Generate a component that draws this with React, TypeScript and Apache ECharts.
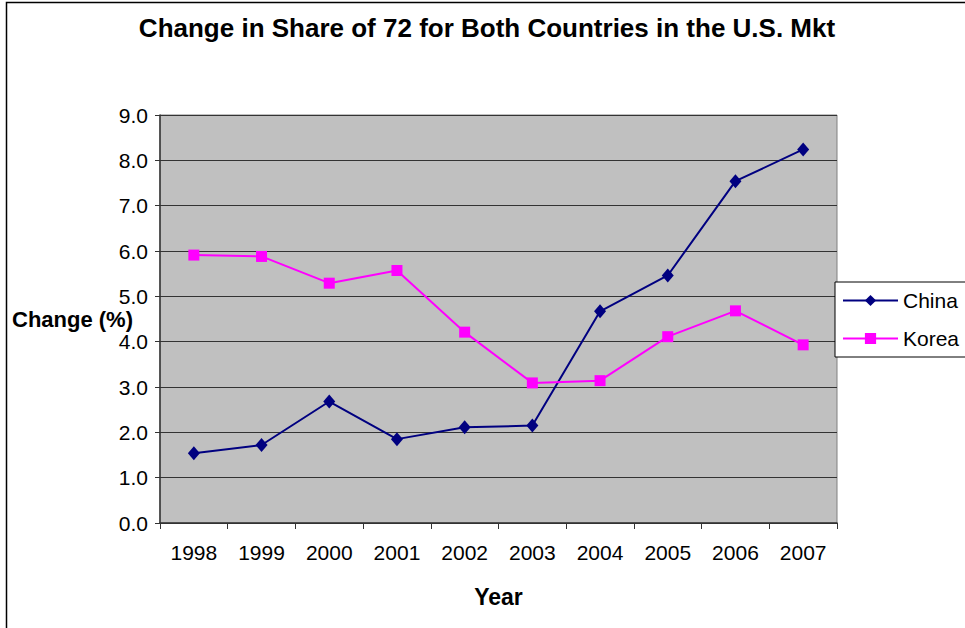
import React, { useEffect, useRef } from "react";
import * as echarts from "echarts";

const years = ["1998", "1999", "2000", "2001", "2002", "2003", "2004", "2005", "2006", "2007"];
const china = [1.54, 1.72, 2.68, 1.85, 2.11, 2.15, 4.67, 5.46, 7.54, 8.24];
const korea = [5.91, 5.88, 5.29, 5.57, 4.21, 3.09, 3.14, 4.11, 4.68, 3.93];

const FONT = "Liberation Sans, Arial, sans-serif";

export default function App() {
  const ref = useRef<HTMLDivElement>(null);
  useEffect(() => {
    if (!ref.current) return;
    const chart = echarts.init(ref.current, null, { renderer: "svg" });
    chart.setOption({
      animation: false,
      backgroundColor: "#fff",
      textStyle: { fontFamily: FONT },
      title: {
        text: "Change in Share of 72 for Both Countries in the U.S. Mkt",
        left: 482,
        textAlign: "center",
        top: 10,
        textStyle: { fontSize: 26, fontWeight: "bold", color: "#000", fontFamily: FONT },
      },
      graphic: [
        {
          type: "rect",
          shape: { x: 6.5, y: 2.5, width: 1000, height: 700 },
          style: { fill: "none", stroke: "#000", lineWidth: 1.5 },
          silent: true,
        },
        {
          type: "text",
          left: 12,
          top: 308,
          style: { text: "Change (%)", font: "bold 22px " + FONT, fill: "#000" },
        },
      ],
      legend: {
        orient: "vertical",
        left: 835,
        top: 282,
        data: ["China", "Korea"],
        backgroundColor: "#fff",
        borderColor: "#000",
        borderWidth: 1,
        padding: [8, 40, 8, 7],
        itemWidth: 55,
        itemHeight: 14,
        itemGap: 17,
        textStyle: { fontSize: 21, color: "#000", fontFamily: FONT },
      },
      grid: {
        left: 160,
        right: 128,
        top: 115,
        bottom: 105,
        show: true,
        backgroundColor: "#C0C0C0",
        borderColor: "#808080",
        borderWidth: 1,
      },
      xAxis: {
        type: "category",
        data: years,
        boundaryGap: true,
        name: "Year",
        nameLocation: "middle",
        nameGap: 62,
        nameTextStyle: { fontSize: 23, fontWeight: "bold", color: "#000" },
        axisLine: { lineStyle: { color: "#333", width: 1.5 } },
        axisTick: { show: true, alignWithLabel: false, length: 6, lineStyle: { color: "#333" } },
        axisLabel: { fontSize: 21, color: "#000", margin: 19 },
        splitLine: { show: false },
      },
      yAxis: {
        type: "value",
        min: 0,
        max: 9,
        interval: 1,
        axisLine: { show: true, lineStyle: { color: "#333", width: 1.5 } },
        axisTick: { show: true, length: 5, lineStyle: { color: "#333" } },
        axisLabel: {
          fontSize: 21,
          color: "#000",
          margin: 12,
          formatter: (v: number) => v.toFixed(1),
        },
        splitLine: { show: true, lineStyle: { color: "#333", width: 1 } },
      },
      series: [
        {
          name: "China",
          type: "line",
          data: china,
          symbol: "diamond",
          symbolSize: [12, 14],
          lineStyle: { color: "#000080", width: 2 },
          itemStyle: { color: "#000080" },
        },
        {
          name: "Korea",
          type: "line",
          data: korea,
          symbol: "rect",
          symbolSize: 11,
          lineStyle: { color: "#FF00FF", width: 2 },
          itemStyle: { color: "#FF00FF" },
        },
      ],
    });
    return () => chart.dispose();
  }, []);
  return (
    <div
      ref={ref}
      style={{ position: "absolute", left: 0, top: 0, width: 965, height: 628 }}
    />
  );
}
